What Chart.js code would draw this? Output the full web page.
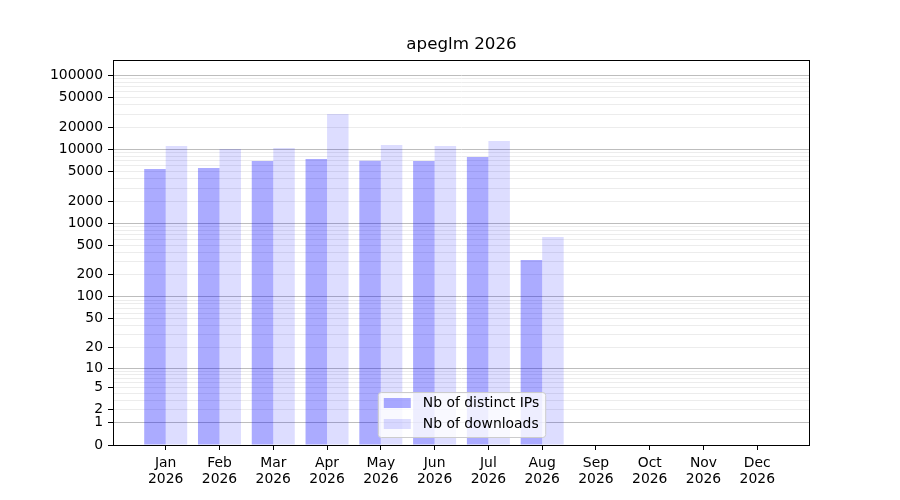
<!DOCTYPE html>
<html>
<head>
<meta charset="utf-8">
<script src="https://cdn.jsdelivr.net/npm/chart.js@4/dist/chart.umd.min.js"></script>
<style>
  html, body { margin: 0; padding: 0; background: #fff; }
  #wrap { width: 900px; height: 500px; }
</style>
</head>
<body>
<div id="wrap"><canvas id="downloadsChart" width="900" height="500"></canvas></div>
<script>
const months = ['Jan', 'Feb', 'Mar', 'Apr', 'May', 'Jun', 'Jul', 'Aug', 'Sep', 'Oct', 'Nov', 'Dec'];
const year = '2026';
const distinctIPs = [5430, 5600, 6970, 7420, 7000, 6960, 7890, 318];
const downloads = [11120, 10120, 10450, 30130, 11470, 11120, 13000, 652];
const yLabels = [0, 1, 2, 5, 10, 20, 50, 100, 200, 500, 1000, 2000, 5000, 10000, 20000, 50000, 100000];
const yTop = 162000;

// y axis is log10(1 + v)
const tf = v => Math.log10(1 + v);

// gridline values: 1..9 in every decade up to 100000
const gridVals = [0];
for (let d = 1; d <= 100000; d *= 10) {
    for (let k = 1; k <= 9; k++) {
        if (k * d > 100000) break;
        gridVals.push(k * d);
    }
}

const ctx = document.getElementById('downloadsChart').getContext('2d');
const font = { family: '"DejaVu Sans", sans-serif', size: 13.9 };
Chart.defaults.color = '#000';

const frameAndLegend = {
    id: 'frameAndLegend',
    afterDraw(chart) {
        const c = chart.ctx;
        const a = chart.chartArea;
        c.save();
        c.strokeStyle = '#000';
        c.lineWidth = 1;
        c.strokeRect(Math.round(a.left) + 0.5, Math.round(a.top) + 0.5,
            Math.round(a.right - a.left) - 1, Math.round(a.bottom - a.top));

        c.font = '13.9px "DejaVu Sans", sans-serif';
        const sets = chart.data.datasets;
        const tw = Math.max(...sets.map(s => c.measureText(s.label).width));
        const w = 6 + 27 + 12 + tw + 6;
        const h = 45;
        const x = (a.left + a.right) / 2 - w / 2;
        const y = a.bottom - 8 - h;
        c.beginPath();
        c.roundRect(x + 0.5, y + 0.5, w, h, 3);
        c.fillStyle = 'rgba(255,255,255,0.8)';
        c.fill();
        c.strokeStyle = '#cccccc';
        c.stroke();
        c.textBaseline = 'middle';
        sets.forEach((s, i) => {
            const ry = y + 6 + i * 21;
            c.fillStyle = s.backgroundColor;
            c.fillRect(x + 6, ry, 27, 10);
            c.fillStyle = '#000';
            c.fillText(s.label, x + 45, ry + 5.5);
        });
        c.restore();
    }
};

new Chart(ctx, {
    type: 'bar',
    data: {
        datasets: [{
            label: 'Nb of distinct IPs',
            data: distinctIPs.map((v, i) => ({ x: i, y: tf(v) })),
            backgroundColor: 'rgba(0,0,255,0.33)',
            borderWidth: 0,
            categoryPercentage: 0.8,
            barPercentage: 1.0
        }, {
            label: 'Nb of downloads',
            data: downloads.map((v, i) => ({ x: i, y: tf(v) })),
            backgroundColor: 'rgba(0,0,255,0.133)',
            borderWidth: 0,
            categoryPercentage: 0.8,
            barPercentage: 1.0
        }]
    },
    options: {
        responsive: false,
        devicePixelRatio: 1,
        animation: false,
        layout: { padding: { top: 35, right: 90, bottom: 0, left: 0 } },
        plugins: {
            legend: { display: false },
            tooltip: { enabled: false },
            title: {
                display: true,
                text: 'apeglm 2026',
                fullSize: false,
                color: '#000',
                font: { family: '"DejaVu Sans", sans-serif', size: 16.7, weight: 'normal', lineHeight: 1.2 },
                padding: { top: 0, bottom: 5 }
            }
        },
        scales: {
            x: {
                type: 'linear',
                min: -0.98,
                max: 11.98,
                offset: false,
                afterBuildTicks: scale => {
                    scale.ticks = months.map((m, i) => ({ value: i }));
                },
                afterFit: scale => { scale.height = 55; },
                ticks: {
                    autoSkip: false,
                    maxRotation: 0,
                    padding: 5,
                    font: { ...font, lineHeight: 1.15 },
                    callback: v => [months[Math.round(v)], year]
                },
                grid: {
                    offset: false,
                    drawOnChartArea: false,
                    tickLength: 5,
                    tickColor: '#000'
                },
                border: { display: false }
            },
            y: {
                type: 'linear',
                min: 0,
                max: tf(yTop),
                afterBuildTicks: scale => {
                    scale.ticks = gridVals.map(v => ({ value: tf(v) }));
                },
                afterFit: scale => { scale.width = 113; },
                ticks: {
                    autoSkip: false,
                    padding: 5,
                    font: font,
                    callback: (v, i) => yLabels.includes(gridVals[i]) ? String(gridVals[i]) : ''
                },
                grid: {
                    tickLength: 5,
                    lineWidth: 1,
                    color: c => {
                        const v = gridVals[c.index];
                        if (v === 0) return 'rgba(0,0,0,0)';
                        return Number.isInteger(Math.log10(v)) ? '#bdbdbd' : '#ececec';
                    },
                    tickColor: c => yLabels.includes(gridVals[c.index]) ? '#000' : 'rgba(0,0,0,0)'
                },
                border: { display: false }
            }
        }
    },
    plugins: [frameAndLegend]
});
</script>
</body>
</html>
